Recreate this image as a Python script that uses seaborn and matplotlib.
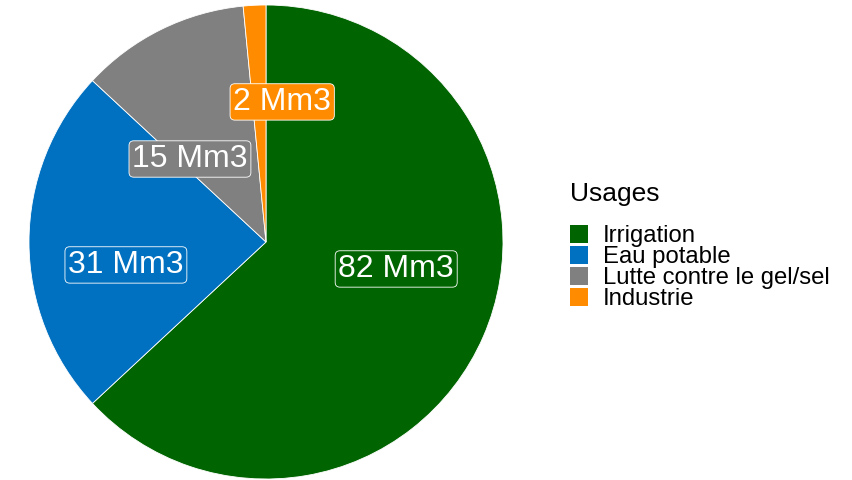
import numpy as np
import matplotlib.pyplot as plt
import seaborn as sns
from matplotlib.patches import Patch

# data
usages = ["Irrigation", "Eau potable", "Lutte contre le gel/sel", "Industrie"]
volumes = [82, 31, 15, 2]
colors = ["#006400", "#0070C0", "#808080", "#FF8C00"]

# label placement (angle clockwise from top, radius as fraction of pie)
label_angle = [101.7, 260.7, 317.5, 6.6]
label_radius = [0.561, 0.599, 0.475, 0.595]

sns.set_theme(style="white")
plt.rcParams['font.family'] = ['Liberation Sans', 'DejaVu Sans']
plt.rcParams['text.color'] = 'black'

fig = plt.figure(figsize=(8.53, 4.8), dpi=100)
ax = fig.add_axes([29 / 853, 1 / 480, 474 / 853, 474 / 480])

ax.pie(volumes, colors=colors, startangle=90, counterclock=False,
       wedgeprops=dict(edgecolor="white", linewidth=0.6))
ax.set_xlim(-1.0, 1.0)
ax.set_ylim(-1.0, 1.0)
ax.set_aspect("equal")
ax.axis("off")

for v, c, a, r in zip(volumes, colors, label_angle, label_radius):
    t = np.deg2rad(a)
    ax.text(r * np.sin(t), r * np.cos(t), f"{v} Mm3", color="white", fontsize=23,
            ha="center", va="center",
            bbox=dict(boxstyle="round,pad=0.1,rounding_size=0.15", facecolor=c,
                      edgecolor="white", linewidth=0.6))

handles = [Patch(facecolor=c, edgecolor="none") for c in colors]
leg = fig.legend(handles, usages, title="Usages", loc="center left",
                 bbox_to_anchor=(549 / 853, 1 - 246 / 480), frameon=False,
                 fontsize=17.2, title_fontsize=19, labelspacing=-0.05,
                 handlelength=0.75, handleheight=0.75, handletextpad=0.62)
leg._legend_box.align = "left"
leg._legend_box.sep = 14
for txt in leg.get_texts():
    txt.set_color("black")
leg.get_title().set_color("black")

plt.savefig("out.png", dpi=100)
plt.close()
